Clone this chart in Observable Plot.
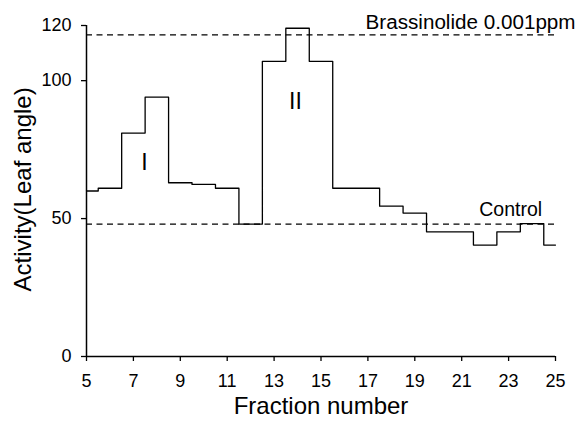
<!DOCTYPE html>
<html>
<head>
<meta charset="utf-8">
<script src="https://cdn.jsdelivr.net/npm/d3@7"></script>
<script src="https://cdn.jsdelivr.net/npm/@observablehq/plot@0.6"></script>
<style>
  html, body { margin: 0; padding: 0; background: #fff; }
  svg { display: block; }
</style>
</head>
<body>
<div id="chart"></div>
<script>
// Fraction numbers and measured activity (leaf angle)
const fractions = [5, 6, 7, 8, 9, 10, 11, 12, 13, 14, 15, 16, 17, 18, 19, 20, 21, 22, 23, 24, 25];
const activity  = [60, 61, 81, 94, 63, 62.4, 61, 48, 107, 119, 107, 61, 61, 54.5, 52, 45.2, 45.2, 40.4, 45.2, 48.2, 40.4];

// Reference levels
const referenceNames  = ["Brassinolide 0.001ppm", "Control"];
const referenceLevels = [116.6, 48];

// Peak labels
const peakNames     = ["I", "II"];
const peakFractions = [7.47, 13.91];
const peakActivity  = [70.3, 92.4];

// Axis ticks and titles
const xTicks = [5, 7, 9, 11, 13, 15, 17, 19, 21, 23, 25];
const yTicks = [0, 50, 100, 120];
const xTitle = "Fraction number";
const yTitle = "Activity(Leaf angle)";

const series = fractions.map((f, i) => ({fraction: f, activity: activity[i]}));
const refs = referenceNames.map((n, i) => ({name: n, level: referenceLevels[i]}));
const peaks = peakNames.map((n, i) => ({name: n, fraction: peakFractions[i], activity: peakActivity[i]}));
// label positions for reference lines
const refLabels = [
  {name: referenceNames[0], fraction: 16.9, activity: 121},
  {name: referenceNames[1], fraction: 21.75, activity: 53.2}
];
// y-axis title anchor (outside frame, left of axis)
const yTitlePos = [{text: yTitle, fraction: 2.3, activity: 60.6}];

const font = "'Liberation Sans', Arial, Helvetica, sans-serif";

const chart = Plot.plot({
  width: 579,
  height: 423,
  marginLeft: 86,
  marginRight: 24,
  marginTop: 25,
  marginBottom: 67,
  style: {fontFamily: font, fontSize: "18px", background: "white", color: "black", overflow: "visible"},
  x: {domain: [5, 25]},
  y: {domain: [0, 120]},
  marks: [
    Plot.axisX({ticks: xTicks, tickSize: 5, tickPadding: 13, label: null, fontSize: 18, strokeWidth: 1.3}),
    Plot.axisY({ticks: yTicks, tickSize: 5, tickPadding: 10, label: null, fontSize: 18, strokeWidth: 1.3}),
    Plot.ruleX([5], {y1: 0, y2: 120, stroke: "black", strokeWidth: 1.5}),
    Plot.ruleY([0], {x1: 5, x2: 25, stroke: "black", strokeWidth: 1.5}),
    Plot.ruleY(refs, {y: "level", x1: 5, x2: 25, stroke: "black", strokeWidth: 1.3, strokeDasharray: "6,4.5"}),
    Plot.line(series, {x: "fraction", y: "activity", curve: "step", stroke: "black", strokeWidth: 1.3}),
    Plot.text(refLabels, {x: "fraction", y: "activity", text: "name", textAnchor: "start", fontSize: 19.5, fill: "black"}),
    Plot.text(peaks, {x: "fraction", y: "activity", text: "name", fontSize: 23, fill: "black"}),
    Plot.text([xTitle], {frameAnchor: "bottom", text: d => d, dy: 57, fontSize: 24, fill: "black"}),
    Plot.text(yTitlePos, {x: "fraction", y: "activity", text: "text", rotate: -90, fontSize: 24, fill: "black", clip: false})
  ]
});
document.getElementById("chart").appendChild(chart);
// widen the Brassinolide label slightly to match the reference's wide lettering
d3.select(chart).selectAll("text").each(function() {
  if (this.textContent === referenceNames[0]) {
    this.setAttribute("textLength", 210);
    this.setAttribute("lengthAdjust", "spacingAndGlyphs");
  }
});
</script>
</body>
</html>
